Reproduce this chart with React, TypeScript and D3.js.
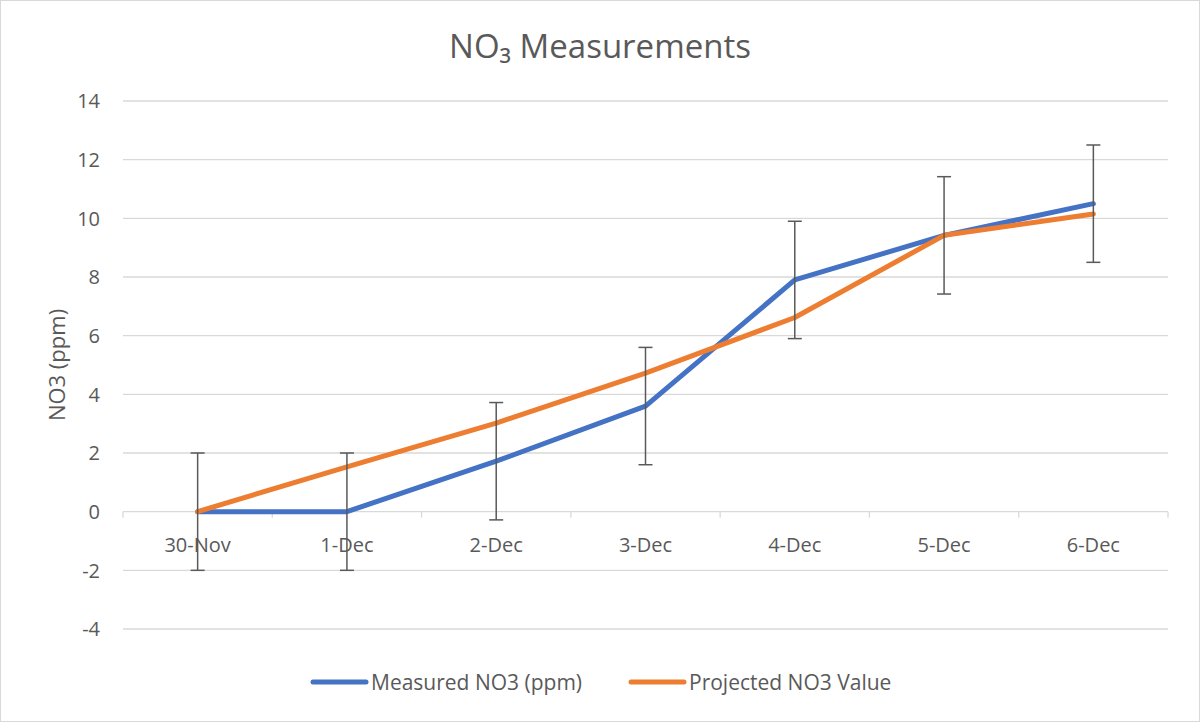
import React from "react";
import * as d3 from "d3";

const categories = ["30-Nov", "1-Dec", "2-Dec", "3-Dec", "4-Dec", "5-Dec", "6-Dec"];
const measured = [0, 0, 1.72, 3.6, 7.9, 9.42, 10.5];
const projected = [0, 1.53, 3.02, 4.72, 6.62, 9.42, 10.15];
const errorAmount = 2;
const yTicks = [-4, -2, 0, 2, 4, 6, 8, 10, 12, 14];
const seriesNames = ["Measured NO3 (ppm)", "Projected NO3 Value"];
const colors = ["#4472C4", "#ED7D31"];

const W = 1200, H = 722;
const left = 123, right = 1168, top = 101, bottom = 629;
const font = "'Open Sans', 'Liberation Sans', sans-serif";

export default function App() {
  const x = d3.scaleBand().domain(categories).range([left, right]);
  const y = d3.scaleLinear().domain([-4, 14]).range([bottom, top]);
  const cx = (c: string) => (x(c) as number) + x.bandwidth() / 2;
  const line = d3.line<number>().x((_, i) => cx(categories[i])).y((d) => y(d));
  const boundaries = d3.range(categories.length + 1).map((i) => left + i * x.step());
  return (
    <svg width={W} height={H} style={{ position: "absolute", left: 0, top: 0, fontFamily: font }}>
      <rect x={0.5} y={0.5} width={W - 1} height={H - 1} fill="#fff" stroke="#d9d9d9" />
      <text x={600} y={58} textAnchor="middle" fontSize={33} fill="#595959">NO₃ Measurements</text>
      {yTicks.map((t) => (
        <g key={t}>
          <line x1={left} x2={right} y1={y(t)} y2={y(t)} stroke="#d9d9d9" strokeWidth={1.3} />
          <text x={100} y={y(t)} dy="0.36em" textAnchor="end" fontSize={20} fill="#595959">{t}</text>
        </g>
      ))}
      {boundaries.map((b, i) => (
        <line key={i} x1={b} x2={b} y1={y(0)} y2={y(0) + 6} stroke="#d9d9d9" strokeWidth={1.3} />
      ))}
      {categories.map((c) => (
        <text key={c} x={cx(c)} y={y(0) + 40} textAnchor="middle" fontSize={20} fill="#595959">{c}</text>
      ))}
      <text transform={`translate(65,${(top + bottom) / 2}) rotate(-90)`} textAnchor="middle" fontSize={22} fill="#595959">NO3 (ppm)</text>
      <path d={line(measured) || ""} fill="none" stroke={colors[0]} strokeWidth={5} strokeLinejoin="round" strokeLinecap="round" />
      <path d={line(projected) || ""} fill="none" stroke={colors[1]} strokeWidth={5} strokeLinejoin="round" strokeLinecap="round" />
      {measured.map((v, i) => {
        const px = cx(categories[i]);
        const y1 = y(v + errorAmount), y2 = y(v - errorAmount);
        return (
          <g key={i} stroke="#595959" strokeWidth={1.5}>
            <line x1={px} x2={px} y1={y1} y2={y2} />
            <line x1={px - 7} x2={px + 7} y1={y1} y2={y1} />
            <line x1={px - 7} x2={px + 7} y1={y2} y2={y2} />
          </g>
        );
      })}
      {seriesNames.map((n, i) => {
        const lx = i === 0 ? 313 : 631;
        return (
          <g key={n}>
            <line x1={lx} x2={lx + 53} y1={682} y2={682} stroke={colors[i]} strokeWidth={5} strokeLinecap="round" />
            <text x={lx + 58} y={682} dy="0.36em" fontSize={21} fill="#595959">{n}</text>
          </g>
        );
      })}
    </svg>
  );
}
